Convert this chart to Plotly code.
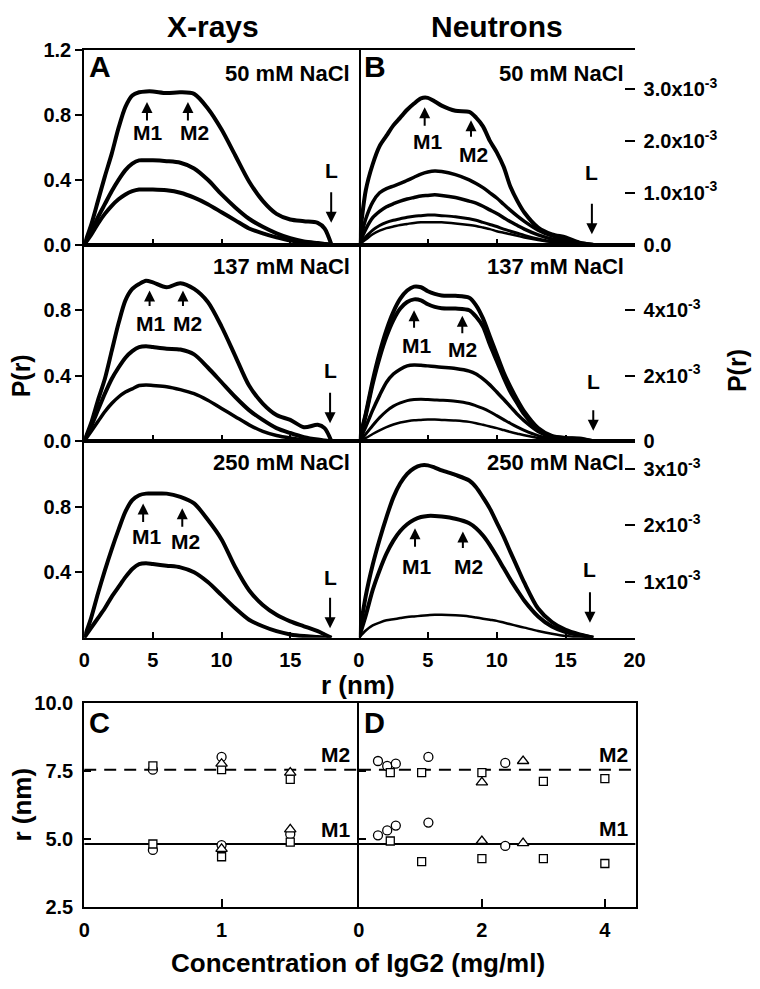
import plotly.graph_objects as go

# ---------------- data ----------------
R_XRAY = [0, 0.5, 1, 1.5, 2, 2.5, 3, 3.5, 4, 4.5, 5, 6, 7, 8, 9, 10, 11, 12, 13, 14, 15, 16, 17, 17.5, 18]
XR50_C1 = [0, 0.12, 0.27, 0.42, 0.56, 0.72, 0.85, 0.92, 0.94, 0.945, 0.945, 0.935, 0.94, 0.93, 0.84, 0.71, 0.55, 0.39, 0.27, 0.19, 0.155, 0.145, 0.135, 0.1, 0]
XR50_C2 = [0, 0.08, 0.17, 0.25, 0.33, 0.4, 0.46, 0.5, 0.52, 0.52, 0.52, 0.515, 0.505, 0.47, 0.4, 0.31, 0.23, 0.16, 0.11, 0.07, 0.04, 0.02, 0.01, 0.005, 0]
XR50_C3 = [0, 0.06, 0.13, 0.19, 0.24, 0.28, 0.31, 0.33, 0.34, 0.34, 0.34, 0.335, 0.32, 0.29, 0.25, 0.2, 0.15, 0.1, 0.07, 0.045, 0.025, 0.015, 0.008, 0.004, 0]
XR137_C1 = [0, 0.11, 0.25, 0.38, 0.55, 0.72, 0.86, 0.93, 0.96, 0.98, 0.97, 0.94, 0.965, 0.93, 0.85, 0.7, 0.52, 0.34, 0.23, 0.16, 0.13, 0.085, 0.1, 0.08, 0]
XR137_C2 = [0, 0.09, 0.19, 0.29, 0.38, 0.45, 0.51, 0.55, 0.575, 0.58, 0.575, 0.565, 0.56, 0.53, 0.45, 0.36, 0.27, 0.19, 0.13, 0.08, 0.05, 0.025, 0.01, 0.005, 0]
XR137_C3 = [0, 0.06, 0.12, 0.18, 0.23, 0.27, 0.3, 0.32, 0.34, 0.343, 0.34, 0.333, 0.315, 0.29, 0.25, 0.2, 0.15, 0.1, 0.06, 0.035, 0.02, 0.01, 0.005, 0.002, 0]
XR250_C1 = [0, 0.12, 0.27, 0.41, 0.54, 0.66, 0.77, 0.84, 0.87, 0.88, 0.88, 0.88, 0.86, 0.82, 0.72, 0.6, 0.43, 0.29, 0.2, 0.14, 0.1, 0.07, 0.04, 0.02, 0]
XR250_C2 = [0, 0.06, 0.12, 0.18, 0.25, 0.31, 0.37, 0.42, 0.45, 0.455, 0.45, 0.44, 0.43, 0.4, 0.34, 0.26, 0.18, 0.11, 0.07, 0.04, 0.02, 0.01, 0.005, 0.002, 0]

R_NEUT = [0, 0.5, 1, 1.5, 2, 2.5, 3, 3.5, 4, 4.5, 5, 5.5, 6, 7, 8, 8.5, 9, 9.5, 10, 10.5, 11, 11.5, 12, 13, 14, 15, 16, 17]
# values in units of 1e-3
N50_C1 = [0, 1.05, 1.55, 1.9, 2.1, 2.3, 2.45, 2.6, 2.72, 2.82, 2.83, 2.76, 2.68, 2.58, 2.56, 2.45, 2.28, 2.0, 1.78, 1.5, 1.11, 0.84, 0.62, 0.33, 0.2, 0.14, 0.04, 0]
N50_C2 = [0, 0.5, 0.82, 1.0, 1.08, 1.13, 1.18, 1.24, 1.3, 1.36, 1.4, 1.42, 1.41, 1.35, 1.25, 1.18, 1.1, 1.0, 0.9, 0.78, 0.66, 0.55, 0.45, 0.28, 0.17, 0.1, 0.04, 0]
N50_C3 = [0, 0.3, 0.52, 0.64, 0.73, 0.79, 0.84, 0.88, 0.91, 0.94, 0.95, 0.96, 0.95, 0.91, 0.84, 0.8, 0.74, 0.67, 0.6, 0.52, 0.44, 0.37, 0.3, 0.19, 0.11, 0.06, 0.02, 0]
N50_C4 = [0, 0.15, 0.28, 0.37, 0.43, 0.47, 0.5, 0.53, 0.55, 0.56, 0.57, 0.57, 0.56, 0.54, 0.5, 0.47, 0.43, 0.39, 0.35, 0.3, 0.26, 0.22, 0.18, 0.11, 0.06, 0.03, 0.01, 0]
N50_C5 = [0, 0.1, 0.2, 0.27, 0.32, 0.35, 0.38, 0.4, 0.42, 0.43, 0.43, 0.43, 0.43, 0.41, 0.38, 0.36, 0.33, 0.3, 0.26, 0.23, 0.2, 0.17, 0.14, 0.09, 0.05, 0.025, 0.008, 0]
N137_C1 = [0, 0.85, 1.85, 2.7, 3.4, 3.95, 4.35, 4.6, 4.72, 4.7, 4.58, 4.5, 4.45, 4.44, 4.38, 4.15, 3.75, 3.2, 2.65, 2.1, 1.65, 1.25, 0.9, 0.4, 0.16, 0.1, 0.08, 0]
N137_C2 = [0, 0.8, 1.75, 2.55, 3.2, 3.7, 4.05, 4.25, 4.33, 4.3, 4.18, 4.1, 4.06, 4.05, 4.0, 3.8, 3.5, 2.95, 2.45, 1.95, 1.5, 1.15, 0.82, 0.36, 0.14, 0.09, 0.07, 0]
N137_C3 = [0, 0.45, 0.95, 1.4, 1.8, 2.05, 2.2, 2.3, 2.33, 2.32, 2.3, 2.28, 2.26, 2.22, 2.14, 2.05, 1.9, 1.72, 1.5, 1.28, 1.05, 0.82, 0.62, 0.3, 0.12, 0.06, 0.03, 0]
N137_C4 = [0, 0.22, 0.48, 0.72, 0.92, 1.07, 1.17, 1.24, 1.27, 1.28, 1.27, 1.26, 1.25, 1.22, 1.15, 1.08, 1.0, 0.9, 0.78, 0.66, 0.54, 0.43, 0.33, 0.17, 0.07, 0.03, 0.01, 0]
N137_C5 = [0, 0.1, 0.22, 0.33, 0.43, 0.51, 0.57, 0.61, 0.64, 0.65, 0.66, 0.66, 0.65, 0.63, 0.59, 0.55, 0.5, 0.45, 0.4, 0.34, 0.28, 0.23, 0.18, 0.1, 0.05, 0.02, 0.01, 0]
N250_C1 = [0, 0.75, 1.3, 1.75, 2.15, 2.5, 2.75, 2.92, 3.02, 3.07, 3.07, 3.03, 2.98, 2.9, 2.8, 2.68, 2.5, 2.3, 2.05, 1.8, 1.52, 1.25, 0.98, 0.52, 0.28, 0.14, 0.06, 0]
N250_C2 = [0, 0.4, 0.85, 1.2, 1.5, 1.73, 1.9, 2.02, 2.1, 2.15, 2.17, 2.17, 2.16, 2.12, 2.04, 1.95, 1.82, 1.65, 1.45, 1.24, 1.03, 0.84, 0.66, 0.38, 0.2, 0.1, 0.05, 0]
N250_C3 = [0, 0.13, 0.22, 0.27, 0.31, 0.33, 0.35, 0.37, 0.38, 0.39, 0.4, 0.41, 0.41, 0.4, 0.38, 0.36, 0.34, 0.32, 0.3, 0.27, 0.24, 0.21, 0.18, 0.12, 0.07, 0.03, 0.01, 0]

# Panel C (X-rays) peak positions
C_CIRC_X = [0.5, 1.0, 0.5, 1.0, 1.5]
C_CIRC_Y = [7.55, 8.02, 4.59, 4.77, 5.17]
C_SQ_X = [0.5, 1.0, 1.5, 0.5, 1.0, 1.5]
C_SQ_Y = [7.69, 7.55, 7.19, 4.81, 4.34, 4.88]
C_TRI_X = [1.0, 1.5, 1.0, 1.5]
C_TRI_Y = [7.77, 7.44, 4.63, 5.35]
# Panel D (Neutrons) peak positions
D_CIRC_X = [0.31, 0.46, 0.6, 1.13, 2.38, 0.31, 0.46, 0.6, 1.13, 2.38]
D_CIRC_Y = [7.87, 7.69, 7.77, 8.02, 7.80, 5.13, 5.31, 5.49, 5.60, 4.74]
D_SQ_X = [0.51, 1.02, 2.0, 3.0, 4.0, 0.51, 1.02, 2.0, 3.0, 4.0]
D_SQ_Y = [7.44, 7.44, 7.44, 7.12, 7.22, 4.92, 4.16, 4.27, 4.27, 4.09]
D_TRI_X = [2.0, 2.67, 2.0, 2.67]
D_TRI_Y = [7.08, 7.87, 4.92, 4.84]
M1_LEVEL = 4.81
M2_LEVEL = 7.55

# ---------------- layout helpers ----------------
W, H = 760, 989
FONT = "Arial, 'Liberation Sans', sans-serif"


def px(x):
    return x / W


def py(y):
    return 1 - y / H


XA = [px(80), px(361)]
XB = [px(361), px(643)]
XD = [px(361), px(644)]
ROWS = [[py(239), py(40)], [py(440), py(239)], [py(641), py(440)]]
RC = [py(916), py(708)]

fig = go.Figure()


def curve(x, y, xa, ya, width, scale=1.0):
    fig.add_trace(go.Scatter(x=x, y=[v * scale for v in y], mode="lines",
                             line=dict(color="black", width=width, shape="spline", smoothing=0.8),
                             xaxis=xa, yaxis=ya, hoverinfo="skip"))


E = 1e-3
curve(R_XRAY, XR50_C1, "x", "y", 4)
curve(R_XRAY, XR50_C2, "x", "y", 4)
curve(R_XRAY, XR50_C3, "x", "y", 4)
curve(R_NEUT, N50_C1, "x2", "y2", 4, E)
curve(R_NEUT, N50_C2, "x2", "y2", 3.5, E)
curve(R_NEUT, N50_C3, "x2", "y2", 3.5, E)
curve(R_NEUT, N50_C4, "x2", "y2", 3, E)
curve(R_NEUT, N50_C5, "x2", "y2", 2.5, E)
curve(R_XRAY, XR137_C1, "x3", "y3", 4)
curve(R_XRAY, XR137_C2, "x3", "y3", 4)
curve(R_XRAY, XR137_C3, "x3", "y3", 3.5)
curve(R_NEUT, N137_C1, "x4", "y4", 4, E)
curve(R_NEUT, N137_C2, "x4", "y4", 4, E)
curve(R_NEUT, N137_C3, "x4", "y4", 3.5, E)
curve(R_NEUT, N137_C4, "x4", "y4", 3, E)
curve(R_NEUT, N137_C5, "x4", "y4", 2.5, E)
curve(R_XRAY, XR250_C1, "x5", "y5", 4)
curve(R_XRAY, XR250_C2, "x5", "y5", 4)
curve(R_NEUT, N250_C1, "x6", "y6", 4, E)
curve(R_NEUT, N250_C2, "x6", "y6", 4, E)
curve(R_NEUT, N250_C3, "x6", "y6", 2.5, E)

# reference lines and points in C/D
for xa, ya, xmax in (("x7", "y7", 2.0), ("x8", "y8", 4.5)):
    fig.add_trace(go.Scatter(x=[0, xmax], y=[M1_LEVEL, M1_LEVEL], mode="lines",
                             line=dict(color="black", width=2), xaxis=xa, yaxis=ya, hoverinfo="skip"))
    fig.add_trace(go.Scatter(x=[0, xmax], y=[M2_LEVEL, M2_LEVEL], mode="lines",
                             line=dict(color="black", width=2, dash="12px,8px"), xaxis=xa, yaxis=ya,
                             hoverinfo="skip"))


def pts(x, y, sym, size, xa, ya):
    fig.add_trace(go.Scatter(x=x, y=y, mode="markers",
                             marker=dict(symbol=sym, size=size, color="white",
                                         line=dict(color="black", width=1.3)),
                             xaxis=xa, yaxis=ya, hoverinfo="skip"))


pts(C_CIRC_X, C_CIRC_Y, "circle", 9, "x7", "y7")
pts(C_SQ_X, C_SQ_Y, "square", 8, "x7", "y7")
pts(C_TRI_X, C_TRI_Y, "triangle-up", 10, "x7", "y7")
pts(D_CIRC_X, D_CIRC_Y, "circle", 9, "x8", "y8")
pts(D_SQ_X, D_SQ_Y, "square", 8, "x8", "y8")
pts(D_TRI_X, D_TRI_Y, "triangle-up", 10, "x8", "y8")

# ---------------- axes ----------------
TICKFONT = dict(family=FONT, size=20, color="black", weight="bold")
BASE = dict(showgrid=False, zeroline=False, showline=True, linecolor="black", linewidth=2,
            mirror=True, tickcolor="black", tickwidth=2, tickfont=TICKFONT)


def sup(m):
    return m + "x10<sup>-3</sup>"


lay = {}
xnames = ["xaxis", "xaxis2", "xaxis3", "xaxis4", "xaxis5", "xaxis6"]
anch_y = ["y", "y2", "y3", "y4", "y5", "y6"]
for i in range(6):
    row = i // 2
    left = (i % 2 == 0)
    xa = dict(BASE, domain=XA if left else XB, anchor=anch_y[i], range=[0, 20],
              ticks="inside", ticklen=6)
    if row < 2:
        xa.update(tickvals=[5, 10, 15], showticklabels=False)
    else:
        xa.update(tickvals=[0, 5, 10, 15] if left else [0, 5, 10, 15, 20], showticklabels=True,
                  ticklabelstandoff=3)
    lay[xnames[i]] = xa

lay["yaxis"] = dict(BASE, domain=ROWS[0], anchor="x", range=[0, 1.2], ticks="outside", ticklen=7,
                    tickvals=[0, 0.4, 0.8, 1.2], ticktext=["0.0", "0.4", "0.8", "1.2"])
lay["yaxis3"] = dict(BASE, domain=ROWS[1], anchor="x3", range=[0, 1.2], ticks="outside", ticklen=7,
                     tickvals=[0, 0.4, 0.8], ticktext=["0.0", "0.4", "0.8"])
lay["yaxis5"] = dict(BASE, domain=ROWS[2], anchor="x5", range=[0, 1.2], ticks="outside", ticklen=7,
                     tickvals=[0.4, 0.8], ticktext=["0.4", "0.8"])
RB = dict(BASE, showline=False, mirror=False, side="right", ticks="inside", ticklen=10,
          ticklabelstandoff=8)
lay["yaxis2"] = dict(RB, domain=ROWS[0], anchor="x2", range=[0, 3.75e-3],
                     tickvals=[0, 1e-3, 2e-3, 3e-3],
                     ticktext=["0.0", sup("1.0"), sup("2.0"), sup("3.0")])
lay["yaxis4"] = dict(RB, domain=ROWS[1], anchor="x4", range=[0, 6e-3],
                     tickvals=[0, 2e-3, 4e-3], ticktext=["0", sup("2"), sup("4")])
lay["yaxis6"] = dict(RB, domain=ROWS[2], anchor="x6", range=[0, 3.5e-3],
                     tickvals=[1e-3, 2e-3, 3e-3], ticktext=[sup("1"), sup("2"), sup("3")])

lay["xaxis7"] = dict(BASE, domain=XA, anchor="y7", range=[0, 2], ticks="inside", ticklen=8,
                     tickvals=[0, 1], ticklabelstandoff=4)
lay["yaxis7"] = dict(BASE, domain=RC, anchor="x7", range=[2.5, 10], ticks="inside", ticklen=7,
                     mirror=False, tickvals=[2.5, 5, 7.5, 10], ticktext=["2.5", "5.0", "7.5", "10.0"],
                     ticklabelstandoff=5)
lay["xaxis8"] = dict(BASE, domain=XD, anchor="y8", range=[0, 4.5], ticks="inside", ticklen=8,
                     tickvals=[0, 2, 4], ticklabelstandoff=4)
lay["yaxis8"] = dict(BASE, domain=RC, anchor="x8", range=[2.5, 10], ticks="inside", ticklen=7,
                     tickvals=[2.5, 5, 7.5, 10], showticklabels=False)

# ---------------- annotations ----------------
ann = []


def txt(x, y, s, size, xanchor="center", xref="paper", yref="paper", angle=0):
    ann.append(dict(x=x, y=y, xref=xref, yref=yref, text="<b>" + s + "</b>", showarrow=False,
                    xanchor=xanchor, yanchor="middle", textangle=angle,
                    font=dict(family=FONT, size=size, color="black")))


def arrow(x, y, dy, xref, yref):
    ann.append(dict(x=x, y=y, xref=xref, yref=yref, text="", showarrow=True, ax=0, ay=dy,
                    arrowhead=2, arrowsize=1.1, arrowwidth=2, arrowcolor="black"))


txt(px(212), py(16), "X-rays", 30)
txt(px(502), py(16), "Neutrons", 30)
txt(px(96), py(57), "A", 30)
txt(px(377), py(57), "B", 30)
txt(px(96), py(728), "C", 29)
txt(px(377), py(728), "D", 29)
for yc, lab in ((64, "50 mM NaCl"), (261, "137 mM NaCl"), (462, "250 mM NaCl")):
    txt(px(354), py(yc), lab, 22, xanchor="right")
    txt(px(634), py(yc), lab, 22, xanchor="right")
txt(px(15), py(373), "P(r)", 25, angle=-90)
txt(px(748), py(368), "P(r)", 25, angle=-90)
txt(px(360), py(689), "r (nm)", 26)
txt(px(16), py(812), "r (nm)", 26, angle=-90)
txt(px(360), py(974), "Concentration of IgG2 (mg/ml)", 26)
txt(px(354), py(760), "M2", 21, xanchor="right")
txt(px(638), py(760), "M2", 21, xanchor="right")
txt(px(354), py(837), "M1", 21, xanchor="right")
txt(px(638), py(836), "M1", 21, xanchor="right")

# panel markers (arrow head, tail offset in px, label positions in data coords)
MARKS = [
    ("x", "y", [(4.57, 0.88, 20, 4.64, 0.69, "M1"), (7.55, 0.88, 20, 8.0, 0.69, "M2"),
                (17.98, 0.135, -32, 18.0, 0.46, "L")]),
    ("x3", "y3", [(4.76, 0.92, 17, 4.86, 0.72, "M1"), (7.19, 0.92, 17, 7.5, 0.72, "M2"),
                  (17.9, 0.11, -32, 17.9, 0.43, "L")]),
    ("x5", "y5", [(4.29, 0.82, 20, 4.57, 0.62, "M1"), (7.14, 0.79, 20, 7.38, 0.59, "M2"),
                  (17.9, 0.058, -32, 17.9, 0.366, "L")]),
    ("x2", "y2", [(4.77, 2.65e-3, 20, 4.94, 1.99e-3, "M1"), (8.13, 2.40e-3, 18, 8.32, 1.74e-3, "M2"),
                  (16.9, 0.2e-3, -32, 16.9, 1.40e-3, "L")]),
    ("x4", "y4", [(4.0, 4.0e-3, 19, 4.18, 2.93e-3, "M1"), (7.5, 3.83e-3, 19, 7.5, 2.8e-3, "M2"),
                  (17.0, 0.32e-3, -22, 17.0, 1.81e-3, "L")]),
    ("x6", "y6", [(4.07, 1.95e-3, 20, 4.15, 1.27e-3, "M1"), (7.54, 1.89e-3, 18, 7.92, 1.27e-3, "M2"),
                  (16.76, 0.265e-3, -32, 16.76, 1.22e-3, "L")]),
]
for xr, yr, items in MARKS:
    for hx, hy, dy, tx, ty, lab in items:
        arrow(hx, hy, dy, xr, yr)
        txt(tx, ty, lab, 21, xref=xr, yref=yr)

fig.update_layout(width=W, height=H, margin=dict(l=0, r=0, t=0, b=0),
                  paper_bgcolor="white", plot_bgcolor="white", showlegend=False,
                  font=dict(family=FONT, color="black"), annotations=ann, **lay)
fig.write_html("out.html", config={"displayModeBar": False},
               post_script="document.body.style.margin='0px';document.body.style.overflow='hidden';")
